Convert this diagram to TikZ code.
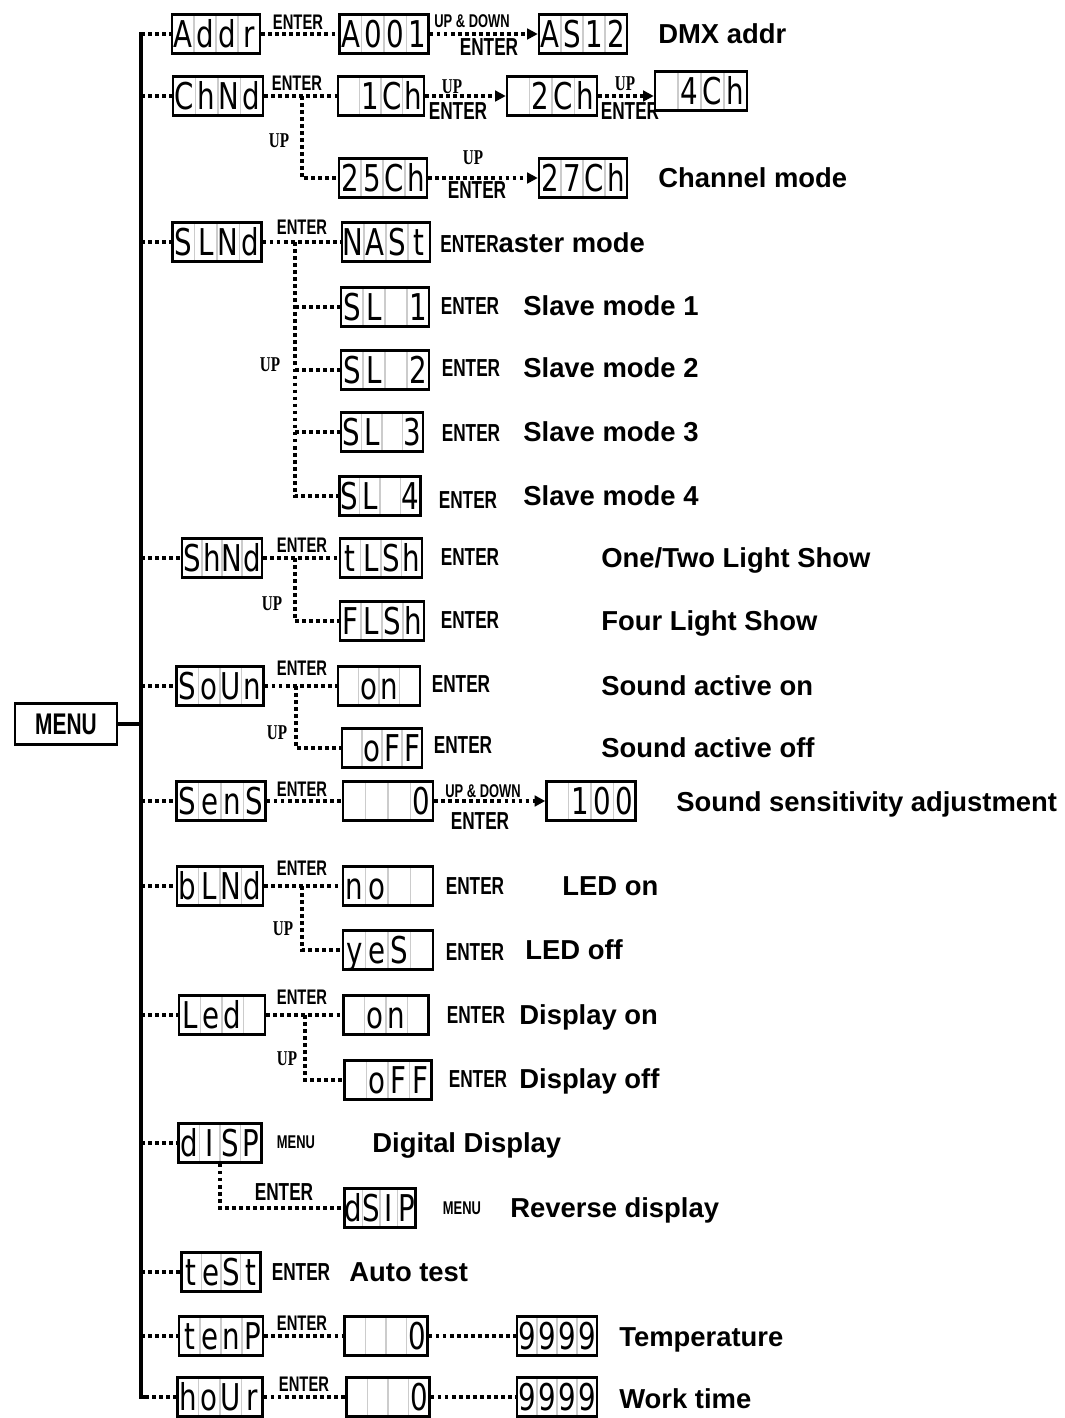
\documentclass[tikz,border=0pt]{standalone}
\usepackage{fontspec}
\setmainfont{Liberation Sans}
\newfontfamily\narrowf[FakeStretch=0.7]{Liberation Sans}
\newfontfamily\upf[FakeStretch=0.72]{Liberation Serif}
\newfontfamily\segf[FakeStretch=0.75]{DejaVu Sans}
\usetikzlibrary{arrows.meta,calc}
\newdimen\lcdpx \lcdpx=0.02cm
\newcommand\lcd[5]{\makebox[\dimexpr#1\lcdpx/4\relax]{#2}\makebox[\dimexpr#1\lcdpx/4\relax]{#3}\makebox[\dimexpr#1\lcdpx/4\relax]{#4}\makebox[\dimexpr#1\lcdpx/4\relax]{#5}}
\tikzset{
  lcdbox/.style={draw, line width=1.4pt, fill=white, inner sep=0pt,
    text height=0.66cm, text depth=0.12cm,
    font=\segf\fontsize{21}{21}\selectfont,
    path picture={\foreach \f in {0.25,0.5,0.75}{\draw[gray!40,line width=0.6pt]
      ($(path picture bounding box.south west)!\f!(path picture bounding box.south east)$) --
      ($(path picture bounding box.north west)!\f!(path picture bounding box.north east)$);}}},
  desc/.style={anchor=west, inner sep=0pt, text height=11.2pt, text depth=0pt,
    font=\bfseries\fontsize{15.6}{18}\selectfont},
  keyA/.style={inner sep=0pt, text height=8.6pt, text depth=0pt,
    font=\narrowf\bfseries\fontsize{12}{12}\selectfont},
  keyB/.style={inner sep=0pt, text height=10pt, text depth=0pt,
    font=\narrowf\bfseries\fontsize{14}{14}\selectfont},
  keyS/.style={inner sep=0pt, text height=7.5pt, text depth=0pt,
    font=\narrowf\bfseries\fontsize{10.5}{10.5}\selectfont},
  upk/.style={inner sep=0pt, text height=8pt, text depth=0pt,
    font=\upf\bfseries\fontsize{12}{12}\selectfont},
  dotc/.style={line width=2.1pt, dash pattern=on 2.1pt off 1.9pt},
  arr/.style={-{Triangle[length=6pt,width=6pt]}},
  bus/.style={line width=1.8pt},
}
\begin{document}
\begin{tikzpicture}[x=0.02cm,y=-0.02cm]
\useasboundingbox (0,0) rectangle (1065,1418);
% ---------- labels ----------
\node[keyA] (e1) at (298,22) {ENTER};
\node[keyS] (ud1) at (472,21) {UP \& DOWN};
\node[keyB] (e1b) at (489,47) {ENTER};
\node[desc] (d1) at (658,34) {DMX addr};

\node[keyA] (e2) at (297,83) {ENTER};
\node[upk] (u2a) at (452,86) {UP};
\node[keyB] (e2a) at (458,111) {ENTER};
\node[upk] (u2b) at (625,83) {UP};
\node[keyB] (e2b) at (630,111) {ENTER};
\node[upk] (u2c) at (279,140) {UP};
\node[upk] (u2d) at (473,157) {UP};
\node[keyB] (e2d) at (477,190) {ENTER};
\node[desc] (d2) at (658,178) {Channel mode};

\node[keyA] (e3) at (302,227) {ENTER};
\node[desc] (d3) at (440,243) {{\narrowf\fontsize{14}{14}\selectfont ENTER}aster mode};
\node[upk] (u3) at (270,364) {UP};
\node[keyB] (e3a) at (470,306) {ENTER};
\node[keyB] (e3b) at (471,368) {ENTER};
\node[keyB] (e3c) at (471,433) {ENTER};
\node[keyB] (e3d) at (468,500) {ENTER};
\node[desc] (d3a) at (523,306) {Slave mode 1};
\node[desc] (d3b) at (523,368) {Slave mode 2};
\node[desc] (d3c) at (523,432) {Slave mode 3};
\node[desc] (d3d) at (523,496) {Slave mode 4};

\node[keyA] (e4) at (302,545) {ENTER};
\node[upk] (u4) at (272,603) {UP};
\node[keyB] (e4a) at (470,557) {ENTER};
\node[keyB] (e4b) at (470,620) {ENTER};
\node[desc] (d4a) at (601,558) {One/Two Light Show};
\node[desc] (d4b) at (601,621) {Four Light Show};

\node[keyA] (e5) at (302,668) {ENTER};
\node[upk] (u5) at (277,732) {UP};
\node[keyB] (e5a) at (461,684) {ENTER};
\node[keyB] (e5b) at (463,745) {ENTER};
\node[desc] (d5a) at (601,686) {Sound active on};
\node[desc] (d5b) at (601,748) {Sound active off};

\node[keyA] (e6) at (302,789) {ENTER};
\node[keyS] (ud6) at (483,791) {UP \& DOWN};
\node[keyB] (e6b) at (480,821) {ENTER};
\node[desc] (d6) at (676,802) {Sound sensitivity adjustment};

\node[keyA] (e7) at (302,868) {ENTER};
\node[upk] (u7) at (283,928) {UP};
\node[keyB] (e7a) at (475,886) {ENTER};
\node[keyB] (e7b) at (475,952) {ENTER};
\node[desc] (d7a) at (562,886) {LED on};
\node[desc] (d7b) at (525,950) {LED off};

\node[keyA] (e8) at (302,997) {ENTER};
\node[upk] (u8) at (287,1058) {UP};
\node[keyB] (e8a) at (476,1015) {ENTER};
\node[keyB] (e8b) at (478,1079) {ENTER};
\node[desc] (d8a) at (519,1015) {Display on};
\node[desc] (d8b) at (519,1079) {Display off};

\node[keyS] (m9) at (296,1142) {MENU};
\node[desc] (d9) at (372,1143) {Digital Display};
\node[keyB] (e9) at (284,1192) {ENTER};
\node[keyS] (m9b) at (462,1208) {MENU};
\node[desc] (d9b) at (510,1208) {Reverse display};

\node[keyB] (e10) at (301,1272) {ENTER};
\node[desc] (d10) at (349,1272) {Auto test};

\node[keyA] (e11) at (302,1323) {ENTER};
\node[desc] (d11) at (619,1337) {Temperature};

\node[keyA] (e12) at (304,1384) {ENTER};
\node[desc] (d12) at (619,1399) {Work time};

% ---------- menu and bus ----------
\node[draw, line width=1.4pt, minimum width=2.04cm, minimum height=0.82cm, inner sep=0pt,
  font=\narrowf\bfseries\fontsize{17}{17}\selectfont] (menu) at (66,724) {MENU};
\coordinate (bt) at (141,32);
\coordinate (bb) at (141,1397);
\coordinate (x2) at (302,0);
\coordinate (x3) at (295,0);
\coordinate (x4) at (295,0);
\coordinate (x5) at (296,0);
\coordinate (x7) at (302,0);
\coordinate (x8) at (305,0);

% ---------- display boxes ----------
\node[lcdbox] (addr) at (216,34) {\lcd{88}{A}{d}{d}{r}};
\node[lcdbox] (a001) at (384,34) {\lcd{89}{A}{0}{0}{1}};
\node[lcdbox] (as12) at (583,34) {\lcd{88}{A}{S}{1}{2}};

\node[lcdbox] (chnd) at (218,96) {\lcd{90}{C}{h}{N}{d}};
\node[lcdbox] (ch1) at (381,96) {\lcd{86}{}{1}{C}{h}};
\node[lcdbox] (ch2) at (552,96) {\lcd{90}{}{2}{C}{h}};
\node[lcdbox] (ch4) at (701,91) {\lcd{92}{}{4}{C}{h}};
\node[lcdbox] (ch25) at (383,178) {\lcd{88}{2}{5}{C}{h}};
\node[lcdbox] (ch27) at (583,178) {\lcd{88}{2}{7}{C}{h}};

\node[lcdbox] (slnd) at (217,242) {\lcd{89}{S}{L}{N}{d}};
\node[lcdbox] (nast) at (386,242) {\lcd{88}{N}{A}{S}{t}};
\node[lcdbox] (sl1) at (385,307) {\lcd{88}{S}{L}{}{1}};
\node[lcdbox] (sl2) at (385,370) {\lcd{88}{S}{L}{}{2}};
\node[lcdbox] (sl3) at (382,432) {\lcd{82}{S}{L}{}{3}};
\node[lcdbox] (sl4) at (380,496) {\lcd{81}{S}{L}{}{4}};

\node[lcdbox] (shnd) at (222,558) {\lcd{80}{S}{h}{N}{d}};
\node[lcdbox] (tlsh) at (381,558) {\lcd{82}{t}{L}{S}{h}};
\node[lcdbox] (flsh) at (382,621) {\lcd{84}{F}{L}{S}{h}};

\node[lcdbox] (soun) at (220,686) {\lcd{87}{S}{o}{U}{n}};
\node[lcdbox] (on1) at (379,686) {\lcd{82}{}{o}{n}{}};
\node[lcdbox] (off1) at (382,748) {\lcd{80}{}{o}{F}{F}};

\node[lcdbox] (sens) at (221,801) {\lcd{89}{S}{e}{n}{S}};
\node[lcdbox] (z1) at (388,801) {\lcd{90}{}{}{}{0}};
\node[lcdbox] (h100) at (591,801) {\lcd{89}{}{1}{0}{0}};

\node[lcdbox] (blnd) at (220,886) {\lcd{86}{b}{L}{N}{d}};
\node[lcdbox] (no) at (388,886) {\lcd{90}{n}{o}{}{}};
\node[lcdbox] (yes) at (388,950) {\lcd{90}{y}{e}{S}{}};

\node[lcdbox] (led) at (222,1015) {\lcd{86}{L}{e}{d}{}};
\node[lcdbox] (on2) at (386,1015) {\lcd{85}{}{o}{n}{}};
\node[lcdbox] (off2) at (388,1080) {\lcd{87}{}{o}{F}{F}};

\node[lcdbox] (disp) at (220,1143) {\lcd{83}{d}{I}{S}{P}};
\node[lcdbox] (dsip) at (380,1208) {\lcd{71}{d}{S}{I}{P}};

\node[lcdbox] (test) at (221,1272) {\lcd{79}{t}{e}{S}{t}};

\node[lcdbox] (tenp) at (221,1336) {\lcd{84}{t}{e}{n}{P}};
\node[lcdbox] (z2) at (386,1336) {\lcd{83}{}{}{}{0}};
\node[lcdbox] (n9a) at (557,1336) {\lcd{80}{9}{9}{9}{9}};

\node[lcdbox] (hour) at (220,1397) {\lcd{85}{h}{o}{U}{r}};
\node[lcdbox] (z3) at (388,1397) {\lcd{83}{}{}{}{0}};
\node[lcdbox] (n9b) at (557,1397) {\lcd{80}{9}{9}{9}{9}};

% ---------- bus ----------
\draw[bus] (bt) -- (bb) -- ++(4,0);
\draw[bus] (menu.east) -- (menu.east -| bt);

% ---------- connectors ----------
\foreach \n in {addr,chnd,slnd,shnd,soun,sens,blnd,led,disp,test,tenp}
  \draw[dotc] (\n.west -| bt) -- (\n.west);
\draw[dotc] (bb) ++(4,0) -- (hour.west);

\draw[dotc] (addr.east) -- (addr.east -| a001.west);
\draw[dotc,arr] (a001.east) -- (a001.east -| as12.west);

\draw[dotc] (chnd.east) -- (chnd.east -| ch1.west);
\draw[dotc,arr] (ch1.east) -- (ch1.east -| ch2.west);
\draw[dotc,arr] (ch2.east) -- (ch2.east -| ch4.west);
\draw[dotc] (chnd.east -| x2) |- (ch25.west);
\draw[dotc,arr] (ch25.east) -- (ch25.east -| ch27.west);

\draw[dotc] (slnd.east) -- (slnd.east -| nast.west);
\draw[dotc] (slnd.east -| x3) |- (sl4.west);
\foreach \n in {sl1,sl2,sl3}
  \draw[dotc] (\n.west -| x3) -- (\n.west);

\draw[dotc] (shnd.east) -- (shnd.east -| tlsh.west);
\draw[dotc] (shnd.east -| x4) |- (flsh.west);

\draw[dotc] (soun.east) -- (soun.east -| on1.west);
\draw[dotc] (soun.east -| x5) |- (off1.west);

\draw[dotc] (sens.east) -- (sens.east -| z1.west);
\draw[dotc,arr] (z1.east) -- (z1.east -| h100.west);

\draw[dotc] (blnd.east) -- (blnd.east -| no.west);
\draw[dotc] (blnd.east -| x7) |- (yes.west);

\draw[dotc] (led.east) -- (led.east -| on2.west);
\draw[dotc] (led.east -| x8) |- (off2.west);

\draw[dotc] (disp.south) |- (dsip.west);

\draw[dotc] (tenp.east) -- (tenp.east -| z2.west);
\draw[dotc] (z2.east) -- (z2.east -| n9a.west);
\draw[dotc] (hour.east) -- (hour.east -| z3.west);
\draw[dotc] (z3.east) -- (z3.east -| n9b.west);
\end{tikzpicture}
\end{document}
